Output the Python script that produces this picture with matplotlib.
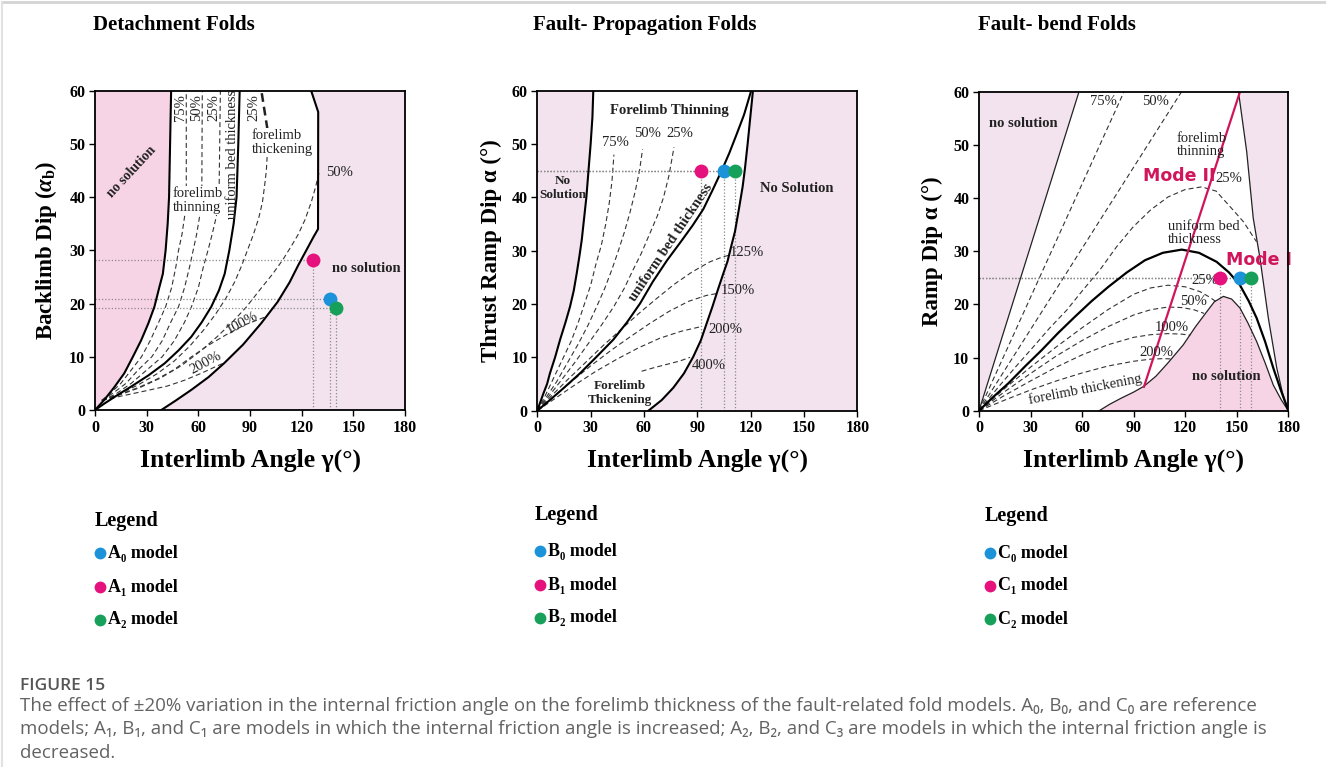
import matplotlib
matplotlib.use("Agg")
import matplotlib.pyplot as plt
from matplotlib.lines import Line2D

plt.rcParams['mathtext.fontset'] = 'custom'
plt.rcParams['mathtext.rm'] = 'Liberation Serif:bold'
plt.rcParams['mathtext.it'] = 'Liberation Serif:bold:italic'
plt.rcParams['mathtext.bf'] = 'Liberation Serif:bold'

SERIF = ['Liberation Serif', 'DejaVu Serif']
SANS = ['Open Sans', 'DejaVu Sans']

# ---------------- data: (interlimb angle, dip) pairs ----------------
x_ticks = [0, 30, 60, 90, 120, 150, 180]
y_ticks = [0, 10, 20, 30, 40, 50, 60]

# Detachment folds
det_left = [(0, 0), (5.4, 1.9), (11, 4.2), (17, 6.9), (22, 10), (26.8, 13.1), (31, 16.3),
            (34.5, 19.4), (37.3, 23), (39.4, 25.6), (41, 30), (42.2, 35), (43, 40),
            (43.6, 50), (44.2, 60)]
det_uniform = [(0, 0), (5.4, 1.2), (13, 2.8), (21, 4.4), (31, 6.5), (40.4, 8.75), (48.5, 11.2),
               (55.9, 13.75), (62, 16.5), (67.5, 19.4), (72, 22.5), (75.3, 25.6), (78, 30),
               (80.5, 35), (82.2, 40), (83.2, 50), (84, 60)]
det_outer = [(38.5, 0), (47, 1.8), (56, 3.8), (66, 6.2), (75, 8.8), (86, 12.3), (96.5, 16.3),
             (106, 20.3), (113, 24), (118, 27.2), (123, 30.2), (127, 32.6), (129.5, 34),
             (129.6, 56), (125.5, 60)]
det_thin75 = [(4, 1.8), (10, 3.5), (15, 5), (21, 7.5), (27, 10), (32, 13), (37, 16.5), (41, 19.4),
              (44.5, 23), (47, 27), (48.5, 30), (50.5, 33), (52, 36.3), (53, 40), (53, 60)]
det_thin50 = [(4, 1.8), (11, 3.3), (18, 5), (25, 7.5), (33, 10), (39, 13), (44, 16.5), (48.5, 19.4),
              (52, 23), (55, 27), (57, 30), (59, 33), (60.7, 36.3), (62, 40), (62.3, 60)]
det_thin25 = [(4, 1.8), (12, 3), (21, 5), (30, 7.5), (39, 10), (46, 13), (52, 16.5), (56, 19.4),
              (60, 23), (63, 27), (65.6, 30), (68, 33), (70.4, 36.3), (72, 40), (72.8, 60)]
det_thick25 = [(4, 1.8), (14, 3), (25, 4.7), (36, 6.8), (46, 9.2), (55, 12), (63, 15), (70, 18),
               (76, 21), (81, 24), (85, 27), (88.5, 30), (92, 33), (95, 36), (97.2, 39),
               (98.5, 42.2), (99.5, 45), (100, 48), (100.1, 52.8)]
det_thick25_top = [(100.1, 52.8), (96.6, 60)]
det_thick50 = [(4, 1.8), (14, 2.8), (26, 4.2), (38, 6), (50, 8.3), (61, 11), (71, 13.8), (80, 16.6),
               (88, 19.4), (96, 22.7), (103, 25.5), (109, 28.2), (114, 30.8), (118, 33),
               (122, 35.8), (125.7, 39.2), (128, 41.8), (130, 44.5)]
det_thick100 = [(4, 1.8), (14, 2.9), (25, 4.2), (36, 5.8), (46, 7.6), (56, 10), (66, 12.2),
                (77, 14.3), (87, 16), (99, 17.5)]
det_thick200 = [(4, 1.8), (15, 2.6), (28, 3.5), (42, 4.5), (52, 5.6), (61.7, 6.9), (69, 8), (76, 9)]
det_models = {'A0': (136.4, 20.8), 'A1': (126.8, 28.1), 'A2': (140.0, 19.25)}

# Fault-propagation folds
fp_left = [(0, 0), (3.4, 3.2), (5.5, 5), (7.1, 7), (10, 10), (12.8, 13.3), (15.8, 16.5), (18.4, 19.5),
           (20.5, 22.5), (22.2, 25.8), (23.7, 29), (25, 32), (26.3, 36), (27.6, 40), (28.8, 45),
           (30, 50), (31, 55), (31.5, 60)]
fp_uniform = [(0, 0), (7.1, 2.0), (15, 4.3), (24, 7), (33, 10), (42.7, 13.3), (50.5, 16.6),
              (57.8, 20.1), (65, 24.2), (73, 28.2), (81, 31.8), (87.5, 34.8), (93.4, 37.8),
              (98.5, 41.3), (103.7, 45), (108, 48.3), (112.2, 51.9), (116.3, 55.5),
              (119.6, 59.2), (120.3, 60)]
fp_right = [(62.5, 0), (70, 2), (76.5, 4.3), (82.5, 7), (87.7, 10.1), (92, 13.2), (95.3, 16.4),
            (98.5, 19.5), (101.5, 22.6), (104.5, 25.6), (107, 28), (109.2, 31), (111.2, 33.6),
            (113.5, 38), (115.5, 42), (116.8, 45.4), (118.3, 50), (119.8, 55), (121.3, 60)]
fp_thin75 = [(0, 0), (4, 2.5), (9, 6), (14, 9.5), (19, 13), (23, 16.5), (26, 19.5), (30, 23.5),
             (33, 27.5), (36, 31), (38.5, 35), (40.5, 39), (42, 43), (43.1, 48)]
fp_thin50 = [(0, 0), (5, 2.5), (11, 5.5), (17, 9), (23, 12.5), (28.5, 16), (33.4, 19.5), (38, 23),
             (42, 26.5), (45.6, 30), (49, 33.5), (52, 37), (55, 41), (57.5, 45), (59.2, 49)]
fp_thin25 = [(0, 0), (6, 2.5), (13, 5.5), (21, 9), (28.5, 12.5), (36, 16), (43, 19.5), (49, 23),
             (54, 26.5), (58.5, 29.5), (63, 33), (67.5, 36.5), (71, 40), (74, 44), (76.9, 49.4)]
fp_thick125 = [(0, 0), (8, 2.8), (17, 5.8), (27, 9), (37, 12.2), (47, 15.2), (57, 18.2), (67, 21),
               (77, 23.7), (87, 26), (97, 27.9), (104, 28.8), (108.4, 29.2)]
fp_thick150 = [(0, 0), (9, 2.6), (19, 5.4), (30, 8.4), (41, 11.2), (52, 13.8), (63, 16.3),
               (74, 18.6), (85, 20.5), (95, 21.6), (101.5, 22)]
fp_thick200 = [(0, 0), (10, 2.3), (21, 4.8), (33, 7.4), (45, 9.7), (57, 11.8), (69, 13.6),
               (81, 14.9), (91.9, 15.75)]
fp_thick400 = [(58.7, 7.4), (66, 8.1), (73, 8.7), (80, 9.3), (85.9, 10)]
fp_models = {'B0': (105.2, 45), 'B1': (91.9, 45), 'B2': (111.2, 45)}

# Fault-bend folds
fb_left = [(0, 0), (58.2, 60)]
fb_right = [(151, 60), (155.8, 48.7), (159.6, 36.2), (163.5, 28.7), (168.4, 17.4), (173.3, 8),
            (176.5, 3.5), (180, 0)]
fb_uniform = [(0, 0), (8, 2.5), (17.1, 5.15), (27, 8.4), (36.5, 11.4), (46, 14.6), (55.9, 17.7),
              (65.5, 20.6), (75.3, 23.3), (86, 26), (96.6, 28.3), (107, 29.7), (118, 30.3),
              (128, 29.7), (138.3, 28), (145.5, 26), (151.9, 23.6), (157, 20.6), (161.6, 17.4),
              (166.5, 13), (171.3, 8), (175.5, 4), (180, 0)]
fb_nosolution = [(70, 0), (76, 1.2), (83, 2.4), (90, 3.5), (96, 4.6), (103, 6.5), (110, 9),
                 (118.9, 12.4), (126, 15.8), (132.5, 18.6), (137, 20.5), (142.2, 21.5), (147, 21),
                 (151.9, 19.3), (156.5, 16.5), (161.6, 13), (166.5, 9), (171.3, 4.8), (176, 2),
                 (180, 0)]
fb_thin75 = [(0, 0), (84.4, 60)]
fb_thin50 = [(0, 0), (117.9, 60)]
fb_thin25 = [(0, 0), (12.2, 4.8), (22, 8.5), (31.6, 12), (41, 15.5), (51, 18.9), (60.5, 22.7),
             (70.4, 26.5), (80, 30.8), (89.8, 34.6), (100, 37.8), (110, 40.2), (120, 41.6),
             (129.6, 42.1), (138, 41.3), (148, 37.7), (154, 35.5), (159.6, 32.7), (161.5, 31.8)]
fb_thick25 = [(0, 0), (15, 4.2), (30, 8.2), (45, 12), (60, 15.6), (75, 19), (90, 21.9), (100, 23.1),
              (110, 23.6), (120, 23.3), (128.6, 22.4), (134, 21.4), (138, 20.5)]
fb_thick50 = [(0, 0), (15, 3.6), (30, 7), (45, 10.3), (60, 13.2), (75, 15.8), (90, 18), (100, 19),
              (110, 19.5), (118, 19.4), (125, 19), (131, 18.3)]
fb_thick100 = [(0, 0), (15, 2.9), (30, 5.6), (45, 8.2), (60, 10.5), (75, 12.4), (90, 13.8),
               (100, 14.3), (110, 14.5), (118, 14.4), (123, 14.2)]
fb_thick200 = [(0, 0), (15, 2), (30, 3.9), (45, 5.6), (60, 7.1), (75, 8.4), (90, 9.3), (100, 9.7),
               (108, 9.8), (113, 9.7)]
fb_mode2 = [(96, 4.5), (151.9, 60)]
fb_models = {'C0': (151.9, 25), 'C1': (140.2, 25), 'C2': (158.3, 25)}

# ---------------- styling ----------------
W, H = 1326, 767
PINK_STRONG = '#f6d4e5'
PINK_LIGHT = '#f2e3ee'
C_BLUE = '#1c93d8'
C_PINK = '#e5127d'
C_GREEN = '#17a05a'
C_MODE = '#d1155b'
DASH = dict(color='#333333', lw=0.8, ls=(0, (4.5, 2.8)), zorder=2)
DOT = dict(color='#8a8a8a', lw=0.9, ls=(0, (1, 1.6)), zorder=2.5)

fig = plt.figure(figsize=(W / 100, H / 100), dpi=100)


def xy(pts):
    return [p[0] for p in pts], [p[1] for p in pts]


def line(ax, pts, **kw):
    xs, ys = xy(pts)
    ax.plot(xs, ys, **kw)


def fill(ax, pts, color):
    xs, ys = xy(pts)
    ax.fill(xs, ys, color=color, lw=0, zorder=0.5)


def style(ax, ylabel):
    ax.set_xlim(0, 180)
    ax.set_ylim(0, 60)
    ax.set_xticks(x_ticks)
    ax.set_yticks(y_ticks)
    ax.tick_params(direction='out', length=4, width=1, pad=3)
    for lab in ax.get_xticklabels() + ax.get_yticklabels():
        lab.set_fontfamily(SERIF)
        lab.set_fontweight('bold')
        lab.set_fontsize(11.5)
    for sp in ax.spines.values():
        sp.set_linewidth(1.3)
        sp.set_zorder(6)
    ax.set_xlabel('Interlimb Angle γ(°)', fontfamily=SERIF, fontweight='bold',
                  fontsize=18.5, labelpad=9)
    ax.set_ylabel(ylabel, fontfamily=SERIF, fontweight='bold', fontsize=16.5, labelpad=7)


def markers(ax, models, order):
    cols = {order[0]: C_BLUE, order[1]: C_PINK, order[2]: C_GREEN}
    for key in order:
        mx, my = models[key]
        ax.plot([0, mx], [my, my], **DOT)
        ax.plot([mx, mx], [0, my], **DOT)
    for key in order:
        mx, my = models[key]
        ax.plot(mx, my, 'o', ms=10, color=cols[key], mec='none', zorder=7, clip_on=False)


def txt(ax, x, y, s, size=10.5, bold=False, **kw):
    kw.setdefault('ha', 'center')
    kw.setdefault('va', 'center')
    ax.text(x, y, s, fontsize=size, fontfamily=SERIF,
            fontweight='bold' if bold else 'normal', color='#222222', zorder=4, **kw)


WHITE = dict(facecolor='white', edgecolor='none', pad=0.6)

# ---------------- Detachment folds ----------------
ax1 = fig.add_axes([95 / W, 1 - 410 / H, 310 / W, 319.3 / H])
fill(ax1, det_left + [(0, 60)], PINK_STRONG)
fill(ax1, det_outer + [(180, 60), (180, 0)], PINK_LIGHT)
for pts in (det_thin75, det_thin50, det_thin25, det_thick25, det_thick50, det_thick100, det_thick200):
    line(ax1, pts, **DASH)
line(ax1, det_thick25_top, color='#222222', lw=1.8, ls=(0, (3.5, 2)), zorder=2)
for pts in (det_left, det_uniform, det_outer):
    line(ax1, pts, color='black', lw=1.5, zorder=3)
markers(ax1, det_models, ['A0', 'A1', 'A2'])
txt(ax1, 21, 44.7, 'no solution', 10, True, rotation=47)
txt(ax1, 157.7, 26.6, 'no solution', 10.5, True)
for lx, s in ((49.7, '75%'), (59.2, '50%'), (68.9, '25%'), (92.5, '25%')):
    txt(ax1, lx, 56.8, s, 10.5, rotation=90)
txt(ax1, 79.8, 48, 'uniform bed thickness', 10.5, rotation=90)
txt(ax1, 45.2, 39.4, 'forelimb\nthinning', 10.5, ha='left', linespacing=1.1, bbox=WHITE)
txt(ax1, 91, 50.3, 'forelimb\nthickening', 10.5, ha='left', linespacing=1.1, bbox=WHITE)
txt(ax1, 142, 44.7, '50%', 10.5)
txt(ax1, 85.5, 16.4, '100%', 10.5, rotation=28)
txt(ax1, 64.5, 8.9, '200%', 10.5, rotation=28)
style(ax1, r'Backlimb Dip ($\alpha_\mathregular{b}$)')

# ---------------- Fault-propagation folds ----------------
ax2 = fig.add_axes([537.3 / W, 1 - 410.7 / H, 320 / W, 320 / H])
fill(ax2, fp_left + [(0, 60)], PINK_LIGHT)
fill(ax2, fp_right + [(180, 60), (180, 0)], PINK_LIGHT)
for pts in (fp_thin75, fp_thin50, fp_thin25, fp_thick125, fp_thick150, fp_thick200, fp_thick400):
    line(ax2, pts, **DASH)
for pts in (fp_left, fp_uniform, fp_right):
    line(ax2, pts, color='black', lw=1.5, zorder=3)
markers(ax2, fp_models, ['B0', 'B1', 'B2'])
txt(ax2, 74.3, 56.3, 'Forelimb Thinning', 10.5, True)
txt(ax2, 14.6, 41.7, 'No\nSolution', 9.5, True, linespacing=1.2)
txt(ax2, 145.9, 41.6, 'No Solution', 10.5, True)
txt(ax2, 44, 50.2, '75%', 10.5)
txt(ax2, 62, 52, '50%', 10.5)
txt(ax2, 80.3, 51.9, '25%', 10.5)
txt(ax2, 118.1, 29.6, '125%', 10.5)
txt(ax2, 113, 22.5, '150%', 10.5)
txt(ax2, 105.9, 15.3, '200%', 10.5)
txt(ax2, 96.2, 8.4, '400%', 10.5)
txt(ax2, 75.2, 31.6, 'uniform bed thickness', 10.5, True, rotation=56)
txt(ax2, 46.5, 3.3, 'Forelimb\nThickening', 9.5, True, linespacing=1.15)
style(ax2, 'Thrust Ramp Dip α (°)')

# ---------------- Fault-bend folds ----------------
ax3 = fig.add_axes([979 / W, 1 - 410.7 / H, 309.3 / W, 319 / H])
fill(ax3, fb_left + [(0, 60)], PINK_LIGHT)
fill(ax3, fb_right + [(180, 60)], PINK_LIGHT)
fill(ax3, fb_nosolution, PINK_STRONG)
for pts in (fb_thin75, fb_thin50, fb_thin25, fb_thick25, fb_thick50, fb_thick100, fb_thick200):
    line(ax3, pts, **DASH)
line(ax3, fb_left, color='#222222', lw=0.9, zorder=3)
line(ax3, fb_right, color='#222222', lw=0.9, zorder=3)
line(ax3, fb_nosolution, color='#222222', lw=0.9, zorder=3)
line(ax3, fb_uniform, color='black', lw=1.6, zorder=3)
line(ax3, fb_mode2, color=C_MODE, lw=1.6, zorder=3.5)
markers(ax3, fb_models, ['C0', 'C1', 'C2'])
txt(ax3, 25.8, 54, 'no solution', 10.5, True)
txt(ax3, 144.1, 6.5, 'no solution', 10.5, True)
txt(ax3, 72.4, 58.1, '75%', 10.5)
txt(ax3, 103, 58.1, '50%', 10.5)
txt(ax3, 115, 50, 'forelimb\nthinning', 10.5, ha='left', linespacing=1.0)
txt(ax3, 110.2, 33.4, 'uniform bed\nthickness', 10.5, ha='left', linespacing=1.0)
txt(ax3, 145.3, 43.7, '25%', 10.5)
txt(ax3, 131.5, 24.5, '25%', 10.5)
txt(ax3, 124.6, 20.6, '50%', 10.5)
txt(ax3, 112.3, 15.7, '100%', 10.5)
txt(ax3, 103, 10.9, '200%', 10.5)
txt(ax3, 62, 4.0, 'forelimb thickening', 10.5, rotation=11)
ax3.text(116.5, 44.2, 'Mode II', fontsize=12.5, fontfamily='DejaVu Sans', fontweight='bold',
         color=C_MODE, ha='center', va='center', zorder=4)
ax3.text(143.6, 28.3, 'Mode I', fontsize=12.5, fontfamily='DejaVu Sans', fontweight='bold',
         color=C_MODE, ha='left', va='center', zorder=4)
style(ax3, 'Ramp Dip α (°)')


# ---------------- titles, legends, caption ----------------
def ftext(px, py, s, **kw):
    fig.text(px / W, 1 - py / H, s, **kw)


for px, s in ((93, 'Detachment Folds'), (533, 'Fault- Propagation Folds'), (978, 'Fault- bend Folds')):
    ftext(px, 25, s, fontsize=15, fontfamily=SERIF, fontweight='bold', va='center', ha='left')

legend_sets = [
    (95, 521, [553, 587, 620], ['A₀ model', 'A₁ model', 'A₂ model']),
    (535, 515, [551, 585, 618], ['B₀ model', 'B₁ model', 'B₂ model']),
    (985, 516, [553, 586, 619], ['C₀ model', 'C₁ model', 'C₂ model']),
]
for lx, ly, rows, labels in legend_sets:
    ftext(lx, ly, 'Legend', fontsize=14.5, fontfamily=SERIF, fontweight='bold', va='center')
    for ry, lab, col in zip(rows, labels, (C_BLUE, C_PINK, C_GREEN)):
        fig.add_artist(Line2D([(lx + 5) / W], [1 - ry / H], marker='o', ms=8.5, color=col, mec='none'))
        ftext(lx + 13, ry, lab, fontsize=13, fontfamily=SERIF, fontweight='bold', va='center')

CAP = '#636363'
ftext(20, 686, 'FIGURE 15', fontsize=12.5, fontfamily=SANS, color='#555555', va='center',
      fontweight='semibold')
caption = [
    'The effect of ±20% variation in the internal friction angle on the forelimb thickness of the '
    'fault-related fold models. A₀, B₀, and C₀ are reference',
    'models; A₁, B₁, and C₁ are models in which the internal friction angle is increased; A₂, B₂, '
    'and C₃ are models in which the internal friction angle is',
    'decreased.',
]
for i, s in enumerate(caption):
    ftext(20, 706 + 23.5 * i, s, fontsize=13.5, fontfamily=SANS, color=CAP, va='center')

# page frame lines
fig.add_artist(Line2D([3 / W, 1], [1 - 2 / H, 1 - 2 / H], color='#d4d4d4', lw=2))
fig.add_artist(Line2D([2 / W, 2 / W], [0, 1 - 2 / H], color='#e2e2e2', lw=1.5))

fig.savefig('out.png', dpi=100)
